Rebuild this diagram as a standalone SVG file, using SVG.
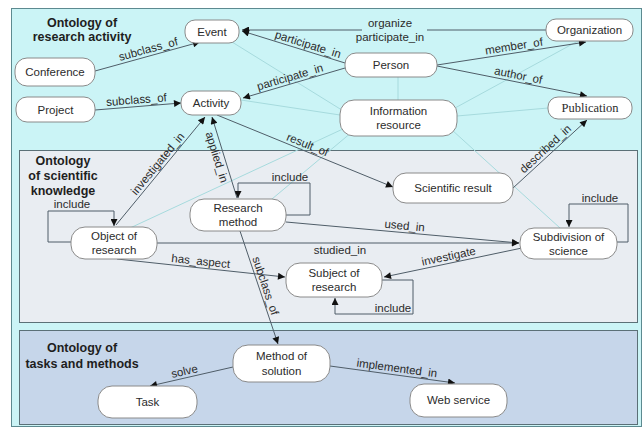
<svg xmlns="http://www.w3.org/2000/svg" width="644" height="428" viewBox="0 0 644 428">
<style>
.node rect{fill:#fff;stroke:#8a8a8a;stroke-width:1}
.node text{font-family:"Liberation Sans",Arial,sans-serif;font-size:11.5px;fill:#2b2b2b;text-anchor:middle}
.title{font-family:"Liberation Sans",Arial,sans-serif;font-size:12.5px;font-weight:bold;fill:#1e1e1e;text-anchor:middle}
.edge{fill:none;stroke:#4f5d68;stroke-width:1}
.faint{fill:none;stroke:#a6dadd;stroke-width:1}
.lbl{font-family:"Liberation Sans",Arial,sans-serif;font-size:11.5px;fill:#2b2b2b;text-anchor:middle;dominant-baseline:central}
</style>
<defs>
<marker id="arr" viewBox="0 0 10 10" refX="10" refY="5" markerWidth="10" markerHeight="7" orient="auto" markerUnits="userSpaceOnUse">
<path d="M0,0 L10,5 L0,10 z" fill="#111"/>
</marker>
</defs>
<rect x="0" y="0" width="644" height="428" fill="#fff"/>
<g id="panels">
<rect x="11.5" y="8.5" width="630" height="418" fill="#cbf4f6" stroke="#5d8a90"/>
<rect x="19.5" y="150.5" width="618" height="172" fill="#e9edf2" stroke="#5b7077"/>
<rect x="19.5" y="330.5" width="618" height="94" fill="#c6d6ea" stroke="#5b7077"/>
<text class="title" x="82" y="27">Ontology of</text>
<text class="title" x="82" y="41">research activity</text>
<text class="title" x="63" y="165">Ontology</text>
<text class="title" x="63" y="180">of scientific</text>
<text class="title" x="63" y="195">knowledge</text>
<text class="title" x="82" y="352">Ontology of</text>
<text class="title" x="82" y="368">tasks and methods</text>
</g>
<g id="connectors">
<path class="faint" d="M232,42 L345,112"/>
<path class="faint" d="M241,100 L340,115"/>
<path class="faint" d="M398,77 L398,100"/>
<path class="faint" d="M455,108 L578,41"/>
<path class="faint" d="M457,116 L548,108"/>
<path class="faint" d="M452,130 L560,228"/>
<path class="faint" d="M352,132 L272,199"/>
<path class="faint" d="M345,128 L130,228"/>

<path class="edge" d="M95,71 L200,42" marker-end="url(#arr)"/>
<text class="lbl" transform="translate(150,55.8) rotate(-15.4)" y="-7">subclass_of</text>
<path class="edge" d="M95,110 L181,103" marker-end="url(#arr)"/>
<text class="lbl" transform="translate(137,106.6) rotate(-4.7)" y="-7">subclass_of</text>

<path class="edge" d="M546,30 L427,30 M362,30 L242,30" marker-end="url(#arr)"/>
<text class="lbl" x="390" y="23">organize</text>
<text class="lbl" x="390" y="37">participate_in</text>

<path class="edge" d="M345,63 L242,31" marker-end="url(#arr)"/>
<text class="lbl" transform="translate(306,50.9) rotate(17.3)" y="-7">participate_in</text>
<path class="edge" d="M345,68 L243,98" marker-end="url(#arr)"/>
<text class="lbl" transform="translate(292,83.6) rotate(-16.4)" y="-7">participate_in</text>

<path class="edge" d="M437,65 L586,42" marker-end="url(#arr)"/>
<text class="lbl" transform="translate(515,53) rotate(-8.8)" y="-7">member_of</text>
<path class="edge" d="M437,66 L587,96" marker-end="url(#arr)"/>
<text class="lbl" transform="translate(517,82) rotate(11.3)" y="-7">author_of</text>

<path class="edge" d="M217,115 L393,187" marker-end="url(#arr)"/>
<text class="lbl" transform="translate(305,151) rotate(22.2)" y="-7">result_of</text>

<path class="edge" d="M116,225 L205,117" marker-end="url(#arr)"/>
<text class="lbl" transform="translate(163,168) rotate(-50.5)" y="-7">investigated_in</text>
<path class="edge" d="M237,198 L212,117" marker-end="url(#arr)"/>
<text class="lbl" transform="translate(223.7,155) rotate(72.9)" y="7">applied_in</text>

<path class="edge" d="M286,215 H310 V183 H238 V198" marker-end="url(#arr)"/>
<text class="lbl" x="290" y="177">include</text>
<path class="edge" d="M71,242 H48 V211 H114 V226" marker-end="url(#arr)"/>
<text class="lbl" x="72" y="204">include</text>
<path class="edge" d="M617,242 H628 V204 H569 V227" marker-end="url(#arr)"/>
<text class="lbl" x="600" y="198">include</text>
<path class="edge" d="M382,280 H413 V314 H335 V298" marker-end="url(#arr)"/>
<text class="lbl" x="393" y="308">include</text>

<path class="edge" d="M513,188 L587,120" marker-end="url(#arr)"/>
<text class="lbl" transform="translate(550,154) rotate(-42.6)" y="-7">described_in</text>

<path class="edge" d="M286,222 L519,243" marker-end="url(#arr)"/>
<text class="lbl" transform="translate(404,232.6) rotate(5.2)" y="-7">used_in</text>
<path class="edge" d="M157,243 L519,243" marker-end="url(#arr)"/>
<text class="lbl" x="340" y="250">studied_in</text>

<path class="edge" d="M117,259 L285,277" marker-end="url(#arr)"/>
<text class="lbl" transform="translate(200,268) rotate(6.1)" y="-7">has_aspect</text>
<path class="edge" d="M522,248 L384,277" marker-end="url(#arr)"/>
<text class="lbl" transform="translate(450,263) rotate(-11.9)" y="-7">investigate</text>

<path class="edge" d="M240,231 L278,344" marker-end="url(#arr)"/>
<text class="lbl" transform="translate(259,288) rotate(71.4)" y="-7">subclass_of</text>

<path class="edge" d="M233,367 L150,386" marker-end="url(#arr)"/>
<text class="lbl" transform="translate(186,378) rotate(-12.9)" y="-7">solve</text>
<path class="edge" d="M330,366 L455,383" marker-end="url(#arr)"/>
<text class="lbl" transform="translate(396,375) rotate(7.7)" y="-7">implemented_in</text>
</g>

<g id="conference" class="node"><rect x="15" y="58" width="80" height="28" rx="12"/><text x="55" y="76">Conference</text></g>
<g id="project" class="node"><rect x="16" y="97" width="79" height="25" rx="11"/><text x="55.5" y="113.5">Project</text></g>
<g id="event" class="node"><rect x="185" y="20" width="54" height="23" rx="10"/><text x="212" y="35.5">Event</text></g>
<g id="activity" class="node"><rect x="181" y="91" width="60" height="24" rx="11"/><text x="211" y="107">Activity</text></g>
<g id="person" class="node"><rect x="345" y="53" width="92" height="24" rx="11"/><text x="391" y="69">Person</text></g>
<g id="organization" class="node"><rect x="546" y="19" width="87" height="22" rx="10"/><text x="589.5" y="34">Organization</text></g>
<g id="information-resource" class="node"><rect x="340" y="100" width="117" height="36" rx="14"/><text x="398.5" y="115">Information</text><text x="398.5" y="129">resource</text></g>
<g id="publication" class="node"><rect x="548" y="97" width="84" height="22" rx="10"/><text x="590" y="112" style="font-family:'Liberation Serif','Times New Roman',serif;font-size:12.5px">Publication</text></g>
<g id="scientific-result" class="node"><rect x="393" y="173" width="120" height="30" rx="13"/><text x="453" y="192">Scientific result</text></g>
<g id="object-of-research" class="node"><rect x="71" y="227" width="86" height="32" rx="14"/><text x="114" y="240">Object of</text><text x="114" y="254">research</text></g>
<g id="research-method" class="node"><rect x="190" y="199" width="96" height="32" rx="14"/><text x="238" y="212">Research</text><text x="238" y="226">method</text></g>
<g id="subdivision-of-science" class="node"><rect x="520" y="228" width="97" height="31" rx="14"/><text x="568.5" y="241">Subdivision of</text><text x="568.5" y="255">science</text></g>
<g id="subject-of-research" class="node"><rect x="286" y="263" width="96" height="34" rx="14"/><text x="334" y="277">Subject of</text><text x="334" y="291">research</text></g>
<g id="method-of-solution" class="node"><rect x="233" y="345" width="97" height="37" rx="15"/><text x="281.5" y="360">Method of</text><text x="281.5" y="375">solution</text></g>
<g id="task" class="node"><rect x="98" y="386" width="99" height="32" rx="14"/><text x="147.5" y="406">Task</text></g>
<g id="web-service" class="node"><rect x="410" y="384" width="97" height="33" rx="14"/><text x="458.5" y="404">Web service</text></g>
</svg>
